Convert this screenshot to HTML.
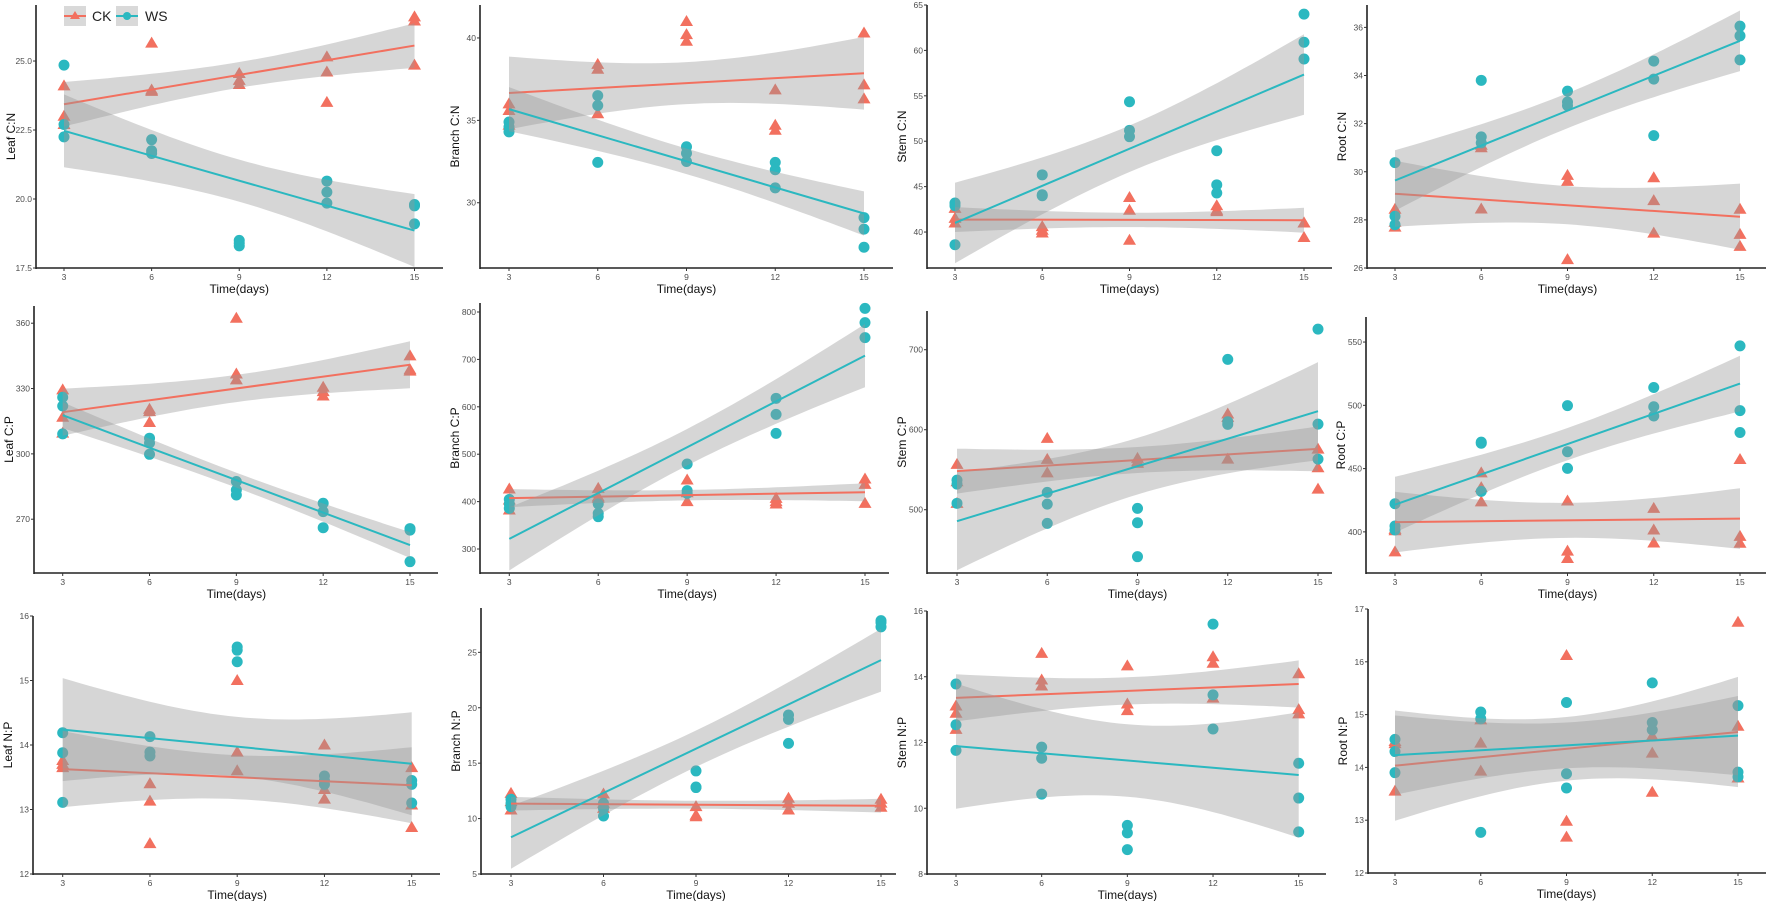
<!DOCTYPE html>
<html><head><meta charset="utf-8"><title>C:N:P stoichiometry over time</title>
<style>
html,body{margin:0;padding:0;background:#fff;}
svg{display:block;font-family:"Liberation Sans",Arial,sans-serif;}
</style></head>
<body>
<svg id="chart" width="1772" height="901" viewBox="0 0 1772 901" xmlns="http://www.w3.org/2000/svg">
  <g id="panels"></g>
  <g id="legend">
    <g>
      <rect x="64" y="6" width="22" height="20" fill="#d9d9d9"/>
      <line x1="64" y1="16" x2="86" y2="16" stroke="#F2705F" stroke-width="2"/>
      <polygon points="75,11 80,19 70,19" fill="#F2705F"/>
      <text x="92" y="21" font-size="14" fill="#222">CK</text>
    </g>
    <g>
      <rect x="116" y="6" width="22" height="20" fill="#d9d9d9"/>
      <line x1="116" y1="16" x2="138" y2="16" stroke="#2BB8C0" stroke-width="2"/>
      <circle cx="127" cy="16" r="4" fill="#2BB8C0"/>
      <text x="145" y="21" font-size="14" fill="#222">WS</text>
    </g>
  </g>
</svg>
<script>
// ---- shared x data ----
const days = [3,6,9,12,15];
const xTicks = [3,6,9,12,15];

// ---- Leaf C:N ----
const leafCN_CK = [24.1,23.0,22.7, 25.65,23.95,23.9, 24.55,24.3,24.15, 25.15,24.6,23.5, 26.6,26.45,24.85];
const leafCN_WS = [24.85,22.7,22.25, 22.15,21.75,21.65, 18.5,18.4,18.3, 20.65,20.25,19.85, 19.8,19.75,19.1];
const leafCN_ticks = [17.5,20,22.5,25];
// ---- Branch C:N ----
const branchCN_CK = [36.0,35.6,34.7, 38.4,38.1,35.4, 41.0,40.2,39.8, 36.85,34.7,34.4, 40.3,37.15,36.3];
const branchCN_WS = [34.9,34.6,34.3, 36.5,35.9,32.45, 33.4,33.0,32.5, 32.45,32.0,30.9, 29.1,28.4,27.3];
const branchCN_ticks = [30,35,40];
// ---- Stem C:N ----
const stemCN_CK = [42.6,41.5,41.0, 40.6,40.2,39.9, 43.8,42.4,39.1, 42.9,42.4,42.25, 41.0,41.0,39.4];
const stemCN_WS = [43.2,42.9,38.6, 46.3,44.1,44.0, 54.35,51.2,50.5, 48.95,45.2,44.3, 64.0,60.9,59.05];
const stemCN_ticks = [40,45,50,55,60,65];
// ---- Root C:N ----
const rootCN_CK = [28.44,27.9,27.7, 31.1,31.0,28.45, 29.85,29.6,26.35, 29.75,28.8,27.45, 28.44,27.4,26.9];
const rootCN_WS = [30.38,28.15,27.8, 33.8,31.45,31.2, 33.35,32.9,32.75, 34.6,33.85,31.5, 36.05,35.65,34.65];
const rootCN_ticks = [26,28,30,32,34,36];
// ---- Leaf C:P ----
const leafCP_CK = [329.4,316.8,309.5, 320.5,319.4,314.4, 362.3,336.7,334, 330.6,328.6,326.6, 345,338.6,338];
const leafCP_WS = [326,322,309.2, 307.2,305,299.8, 287.3,283.4,281.1, 277.3,273.5,266.1, 265.7,265,250.5];
const leafCP_ticks = [270,300,330,360];
// ---- Branch C:P ----
const branchCP_CK = [426.6,403.4,382.3, 428,410,407, 445.6,418.8,399.9, 406.9,399.9,395, 447.7,436.4,396.3];
const branchCP_WS = [404.8,395,385.8, 395,375.2,368.2, 479.3,423.1,417.4, 617.9,584.1,544, 807.7,777.5,745.9];
const branchCP_ticks = [300,400,500,600,700,800];
// ---- Stem C:P ----
const stemCP_CK = [556.7,535,508, 589.2,562.9,546, 564.2,560,558, 619.6,615.4,563.3, 575.8,552.5,525.8];
const stemCP_WS = [537,532,508, 521.7,507,482.9, 501.7,483.7,441.3, 687.9,610,606.7, 725.8,607,563.3];
const stemCP_ticks = [500,600,700];
// ---- Root C:P ----
const rootCP_CK = [402,400.9,384.2, 446.6,435,423.7, 424.4,384.8,379, 418.6,401.5,391.2, 457.2,396.4,391];
const rootCP_WS = [422.2,404.6,401.5, 470.9,470,432, 499.8,463.3,450.2, 514.1,498.9,491.6, 547,495.8,478.5];
const rootCP_ticks = [400,450,500,550];
// ---- Leaf N:P ----
const leafNP_CK = [13.76,13.7,13.65, 13.4,13.13,12.47, 15.0,13.89,13.6, 14.0,13.31,13.16, 13.65,13.07,12.72];
const leafNP_WS = [14.19,13.88,13.11, 14.13,13.89,13.83, 15.52,15.47,15.29, 13.52,13.45,13.39, 13.45,13.39,13.1];
const leafNP_ticks = [12,13,14,15,16];
// ---- Branch N:P ----
const branchNP_CK = [12.28,11.53,10.77, 12.22,11.38,10.92, 11.08,10.3,10.17, 11.83,11.38,10.77, 11.74,11.4,11.02];
const branchNP_WS = [11.74,11.38,11.08, 11.38,10.92,10.23, 14.3,12.85,12.8, 19.35,18.95,16.79, 27.86,27.68,27.3];
const branchNP_ticks = [5,10,15,20,25];
// ---- Stem N:P ----
const stemNP_CK = [13.11,12.89,12.4, 14.71,13.9,13.72, 14.33,13.17,12.97, 14.61,14.41,13.35, 14.09,13.0,12.87];
const stemNP_WS = [13.78,12.54,11.76, 11.86,11.52,10.43, 9.48,9.25,8.74, 15.6,13.45,12.41, 11.37,10.31,9.28];
const stemNP_ticks = [8,10,12,14,16];
// ---- Root N:P ----
const rootNP_CK = [14.49,14.45,13.55, 14.9,14.46,13.93, 16.12,12.98,12.68, 14.59,14.27,13.53, 16.75,14.78,13.8];
const rootNP_WS = [14.53,14.3,13.9, 15.05,14.92,12.77, 15.23,13.88,13.61, 15.6,14.85,14.71, 15.17,13.91,13.82];
const rootNP_ticks = [12,13,14,15,16,17];

const CK_COLOR = "#F2705F", WS_COLOR = "#2BB8C0";
const NS = "http://www.w3.org/2000/svg";

const panels = [
  {id:"leaf-cn",title:"Leaf C:N",ck:leafCN_CK,ws:leafCN_WS,ticks:leafCN_ticks,dec:1,ax:36,x3:64,x15:414.5,xe:443,top:5,bot:268,yMin:17.5,yMax:27.03},
  {id:"branch-cn",title:"Branch C:N",ck:branchCN_CK,ws:branchCN_WS,ticks:branchCN_ticks,dec:0,ax:480,x3:509,x15:864,xe:893,top:5,bot:268,yMin:26.04,yMax:42.0},
  {id:"stem-cn",title:"Stem C:N",ck:stemCN_CK,ws:stemCN_WS,ticks:stemCN_ticks,dec:0,ax:927,x3:955,x15:1304,xe:1332,top:5,bot:268,yMin:36.04,yMax:65},
  {id:"root-cn",title:"Root C:N",ck:rootCN_CK,ws:rootCN_WS,ticks:rootCN_ticks,dec:0,ax:1367,x3:1395,x15:1740,xe:1766,top:5,bot:268,yMin:26,yMax:36.93},
  {id:"leaf-cp",title:"Leaf C:P",ck:leafCP_CK,ws:leafCP_WS,ticks:leafCP_ticks,dec:0,ax:34,x3:62.7,x15:410,xe:438,top:306,bot:573,yMin:245.3,yMax:367.9},
  {id:"branch-cp",title:"Branch C:P",ck:branchCP_CK,ws:branchCP_WS,ticks:branchCP_ticks,dec:0,ax:480,x3:509.3,x15:865,xe:889,top:303,bot:573,yMin:249.4,yMax:819},
  {id:"stem-cp",title:"Stem C:P",ck:stemCP_CK,ws:stemCP_WS,ticks:stemCP_ticks,dec:0,ax:927,x3:957,x15:1318,xe:1332,top:311,bot:573,yMin:420.9,yMax:748.4},
  {id:"root-cp",title:"Root C:P",ck:rootCP_CK,ws:rootCP_WS,ticks:rootCP_ticks,dec:0,ax:1366,x3:1395,x15:1740,xe:1766,top:317,bot:573,yMin:367.5,yMax:569.8},
  {id:"leaf-np",title:"Leaf N:P",ck:leafNP_CK,ws:leafNP_WS,ticks:leafNP_ticks,dec:0,ax:33,x3:62.7,x15:411.7,xe:440,top:616,bot:874,yMin:12,yMax:16.0},
  {id:"branch-np",title:"Branch N:P",ck:branchNP_CK,ws:branchNP_WS,ticks:branchNP_ticks,dec:0,ax:481,x3:511,x15:881,xe:896,top:608,bot:874,yMin:5,yMax:29.0},
  {id:"stem-np",title:"Stem N:P",ck:stemNP_CK,ws:stemNP_WS,ticks:stemNP_ticks,dec:0,ax:927,x3:956,x15:1298.7,xe:1326,top:611,bot:874,yMin:8,yMax:16},
  {id:"root-np",title:"Root N:P",ck:rootNP_CK,ws:rootNP_WS,ticks:rootNP_ticks,dec:0,ax:1368,x3:1395,x15:1738,xe:1766,top:609,bot:873,yMin:12,yMax:17}
];

function mk(tag, attrs, parent){
  const el = document.createElementNS(NS, tag);
  for (const k in attrs) el.setAttribute(k, attrs[k]);
  parent.appendChild(el);
  return el;
}

function fit(vals){
  const xs = []; days.forEach(d => { xs.push(d,d,d); });
  const n = vals.length;
  const mx = xs.reduce((a,b)=>a+b,0)/n, my = vals.reduce((a,b)=>a+b,0)/n;
  let sxx=0, sxy=0;
  for (let i=0;i<n;i++){ sxx += (xs[i]-mx)**2; sxy += (xs[i]-mx)*(vals[i]-my); }
  const b = sxy/sxx, a = my - b*mx;
  let sse=0; for (let i=0;i<n;i++){ sse += (vals[i]-(a+b*xs[i]))**2; }
  const s = Math.sqrt(sse/(n-2));
  return {a,b,s,n,mx,sxx};
}

const root = document.getElementById("panels");
panels.forEach(p => {
  const xs = d => p.x3 + (d-3)/12*(p.x15-p.x3);
  const ys = v => p.bot - (v-p.yMin)/(p.yMax-p.yMin)*(p.bot-p.top);
  const g = mk("g", {}, root);
  
  

  const ya = mk("line", {x1:p.ax,y1:p.top,x2:p.ax,y2:p.bot+1,stroke:"#222","stroke-width":1.6}, g);
  
  
  const xa = mk("line", {x1:p.ax,y1:p.bot,x2:p.xe,y2:p.bot,stroke:"#222","stroke-width":1.6}, g);
  
  

  p.ticks.forEach(t => {
    const y = ys(t);
    mk("line", {x1:p.ax-3,y1:y,x2:p.ax,y2:y,stroke:"#333","stroke-width":1}, g);
    const tl = mk("text", {x:p.ax-4,y:y+3,"font-size":8.5,fill:"#4d4d4d","text-anchor":"end"}, g);
    tl.textContent = t.toFixed(p.dec);
    
    
  });
  xTicks.forEach(d => {
    const x = xs(d);
    mk("line", {x1:x,y1:p.bot,x2:x,y2:p.bot+3,stroke:"#333","stroke-width":1}, g);
    const tl = mk("text", {x:x,y:p.bot+12,"font-size":8.5,fill:"#4d4d4d","text-anchor":"middle"}, g);
    tl.textContent = String(d);
    
    
  });
  const xt = mk("text", {x:(p.x3+p.x15)/2,y:p.bot+25,"font-size":12,fill:"#111","text-anchor":"middle"}, g);
  xt.textContent = "Time(days)";
  
  
  const cy = (p.top+p.bot)/2, cx = p.ax-25;
  const yt = mk("text", {x:cx,y:cy+4,"font-size":12,fill:"#111","text-anchor":"middle",transform:`rotate(-90 ${cx} ${cy})`}, g);
  yt.textContent = p.title;
  
  

  const series = [{key:"ck",vals:p.ck,col:CK_COLOR},{key:"ws",vals:p.ws,col:WS_COLOR}];
  series.forEach(s => {
    s.vals.forEach((v,i) => {
      const x = xs(days[Math.floor(i/3)]), y = ys(v);
      let m;
      if (s.key === "ck") {
        m = mk("polygon", {points:`${x},${y-6.5} ${x+6.5},${y+4.5} ${x-6.5},${y+4.5}`, fill:s.col}, g);
      } else {
        m = mk("circle", {cx:x,cy:y,r:5.5,fill:s.col}, g);
      }
      
      
    });
  });

  series.forEach(s => {
    const f = fit(s.vals);
    const tq = 2.160;
    const up = [], lo = [];
    for (let k=0;k<=40;k++){
      const d = 3 + 12*k/40;
      const yh = f.a + f.b*d;
      const se = f.s*Math.sqrt(1/f.n + (d-f.mx)**2/f.sxx);
      up.push(`${xs(d).toFixed(1)},${ys(yh+tq*se).toFixed(1)}`);
      lo.unshift(`${xs(d).toFixed(1)},${ys(yh-tq*se).toFixed(1)}`);
    }
    const band = mk("polygon", {points:up.concat(lo).join(" "),fill:"#999999","fill-opacity":0.4}, g);
    
    
    const ln = mk("line", {x1:xs(3),y1:ys(f.a+f.b*3),x2:xs(15),y2:ys(f.a+f.b*15),stroke:s.col,"stroke-width":2}, g);
    
    
  });
});
</script>
</body></html>
